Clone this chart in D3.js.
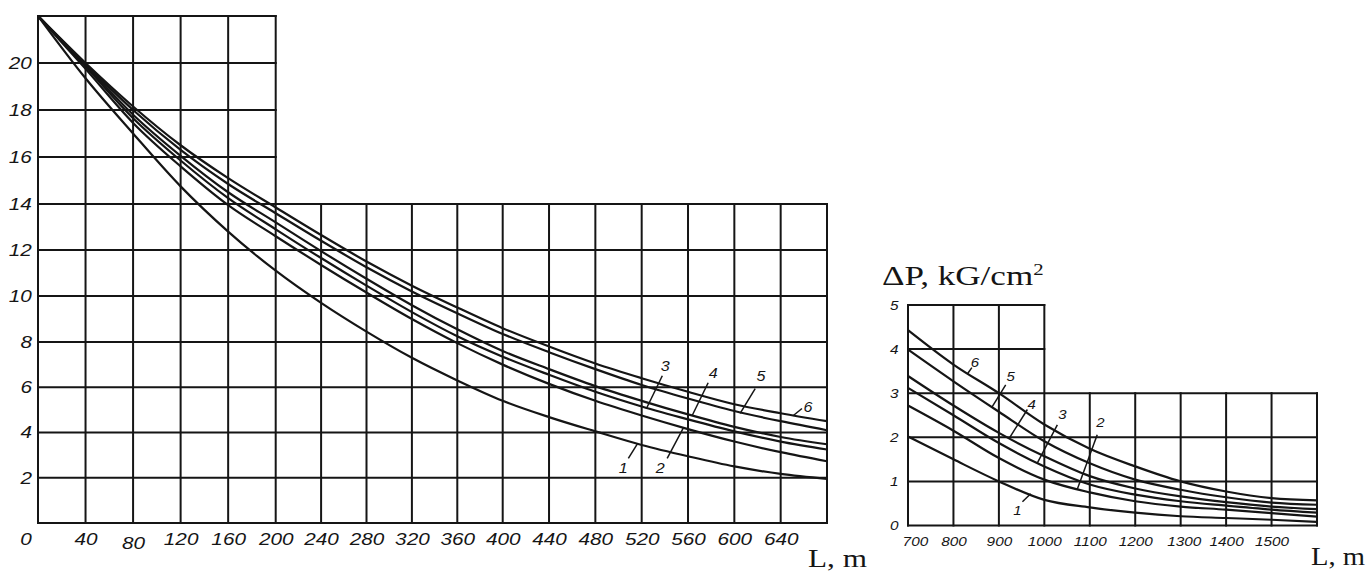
<!DOCTYPE html>
<meta charset="utf-8">
<style>
body { margin: 0; background: #fff; }
svg { display: block; }
.grid line { stroke: #151515; stroke-width: 2; }
.curve { fill: none; stroke: #151515; stroke-width: 2.2; }
.leader { stroke: #151515; stroke-width: 1.5; }
.axis text, .clabel {
  font-family: "Liberation Sans", Arial, sans-serif;
  font-style: italic;
  fill: #151515;
}
.unit {
  font-family: "Liberation Serif", "Times New Roman", serif;
  fill: #151515;
}
</style>
<body>
<svg width="1372" height="576"></svg>
<script src="https://cdn.jsdelivr.net/npm/d3@7"></script>
<script>
// ---- left panel: L 0..680 m ----
var leftL = [0, 40, 80, 120, 160, 200, 240, 280, 320, 360, 400, 440, 480, 520, 560, 600, 640, 680];
var leftC1 = [22, 19.35, 17.0, 14.75, 12.8, 11.1, 9.7, 8.45, 7.3, 6.3, 5.4, 4.68, 4.05, 3.45, 2.95, 2.5, 2.17, 1.95];
var leftC2 = [22, 19.75, 17.45, 15.6, 13.95, 12.6, 11.35, 10.15, 9.0, 7.95, 7.0, 6.15, 5.4, 4.75, 4.15, 3.6, 3.13, 2.73];
var leftC3 = [22, 19.85, 17.65, 15.85, 14.25, 12.9, 11.65, 10.45, 9.3, 8.25, 7.35, 6.55, 5.8, 5.15, 4.58, 4.05, 3.6, 3.25];
var leftC4 = [22, 19.9, 17.8, 16.05, 14.5, 13.2, 11.95, 10.75, 9.6, 8.55, 7.6, 6.8, 6.05, 5.4, 4.8, 4.25, 3.8, 3.48];
var leftC5 = [22, 19.95, 18.0, 16.3, 14.85, 13.6, 12.4, 11.25, 10.2, 9.25, 8.35, 7.55, 6.8, 6.1, 5.5, 4.95, 4.5, 4.1];
var leftC6 = [22, 20.0, 18.15, 16.5, 15.1, 13.85, 12.65, 11.5, 10.45, 9.5, 8.6, 7.8, 7.05, 6.4, 5.8, 5.25, 4.85, 4.5];
var leftXTicks = [0, 40, 80, 120, 160, 200, 240, 280, 320, 360, 400, 440, 480, 520, 560, 600, 640];
var leftYTicks = [2, 4, 6, 8, 10, 12, 14, 16, 18, 20];
var leftYGrid = [0, 2, 4, 6, 8, 10, 12, 14, 16, 18, 20, 22];

// ---- right panel: L 700..1600 m ----
var rightL = [700, 800, 900, 1000, 1100, 1200, 1300, 1400, 1500, 1600];
var rightC1 = [2.02, 1.5, 1.0, 0.58, 0.41, 0.29, 0.21, 0.17, 0.13, 0.08];
var rightC2 = [2.72, 2.15, 1.53, 1.04, 0.75, 0.55, 0.43, 0.36, 0.28, 0.2];
var rightC3 = [3.12, 2.5, 1.87, 1.34, 0.93, 0.7, 0.55, 0.45, 0.36, 0.29];
var rightC4 = [3.39, 2.72, 2.1, 1.57, 1.12, 0.84, 0.66, 0.53, 0.43, 0.37];
var rightC5 = [3.99, 3.27, 2.58, 1.91, 1.41, 1.04, 0.81, 0.64, 0.52, 0.47];
var rightC6 = [4.43, 3.65, 3.0, 2.29, 1.74, 1.34, 1.0, 0.77, 0.62, 0.57];
var rightXTicks = [700, 800, 900, 1000, 1100, 1200, 1300, 1400, 1500];
var rightYTicks = [0, 1, 2, 3, 4, 5];

// curve number labels: text point and leader end, in data units
var leftNotes = [
  {id: "1", tx: 504, tv: 2.43, ax: 508.5, av: 2.86, bx: 516.3, bv: 3.5},
  {id: "2", tx: 536, tv: 2.43, ax: 542, av: 2.86, bx: 556, bv: 4.2},
  {id: "3", tx: 540.4, tv: 6.94, ax: 537.8, av: 6.51, bx: 524, bv: 5.05},
  {id: "4", tx: 581.7, tv: 6.64, ax: 577.4, av: 6.2, bx: 563.6, bv: 4.75},
  {id: "5", tx: 623, tv: 6.51, ax: 618, av: 5.94, bx: 605, bv: 4.85},
  {id: "6", tx: 663.6, tv: 5.12, ax: 658.4, av: 5.06, bx: 650.7, bv: 4.74}
];
var rightNotes = [
  {id: "1", tx: 940.8, tv: 0.35, ax: 951.8, av: 0.54, bx: 970, bv: 0.72},
  {id: "2", tx: 1123.6, tv: 2.33, ax: 1116.4, av: 2.06, bx: 1072.5, bv: 0.82},
  {id: "3", tx: 1039.6, tv: 2.51, ax: 1028.6, av: 2.28, bx: 984.7, bv: 1.42},
  {id: "4", tx: 972, tv: 2.74, ax: 962.7, av: 2.63, bx: 922.3, bv: 1.97},
  {id: "5", tx: 926, tv: 3.38, ax: 915, av: 3.19, bx: 884.4, bv: 2.68},
  {id: "6", tx: 847, tv: 3.69, ax: 840.5, av: 3.58, bx: 831, bv: 3.44}
];

var svg = d3.select("svg");

function panel(opt) {
  var x = opt.x, y = opt.y;
  var g = svg.append("g");

  // stepped grid: tall block on the left, low block to the right
  var grid = g.append("g").attr("class", "grid");
  grid.selectAll(".v").data(opt.lengths).enter().append("line")
      .attr("x1", function(d) { return x(d); })
      .attr("x2", function(d) { return x(d); })
      .attr("y1", y(0))
      .attr("y2", function(d) { return y(d <= opt.stepL ? opt.topV : opt.stepV); })
      .attr("stroke-linecap", "square");
  grid.selectAll(".h").data(opt.yGrid).enter().append("line")
      .attr("y1", function(d) { return y(d); })
      .attr("y2", function(d) { return y(d); })
      .attr("x1", x(opt.lengths[0]))
      .attr("x2", function(d) { return x(d <= opt.stepV ? opt.lengths[opt.lengths.length - 1] : opt.stepL); })
      .attr("stroke-linecap", "square");

  var line = d3.line()
      .x(function(d) { return x(d[0]); })
      .y(function(d) { return y(d[1]); })
      .curve(d3.curveMonotoneX);

  g.selectAll(".curve").data(opt.curves).enter().append("path")
      .attr("class", "curve")
      .attr("d", function(c) { return line(opt.lengths.map(function(l, i) { return [l, c[i]]; })); });

  // axes only carry the labels
  var ax = g.append("g").attr("class", "axis")
      .attr("transform", "translate(0," + y(0) + ")")
      .call(d3.axisBottom(x).tickValues(opt.xTicks).tickSize(0).tickPadding(opt.xPad).tickFormat(d3.format("d")));
  ax.select(".domain").remove();
  ax.selectAll("text")
      .style("font-size", opt.xFont + "px")
      .attr("transform", "scale(" + opt.xStretch + ",1)");
  opt.fixX(ax);

  var ay = g.append("g").attr("class", "axis")
      .attr("transform", "translate(" + x(opt.lengths[0]) + ",0)")
      .call(d3.axisLeft(y).tickValues(opt.yTicks).tickSize(0).tickPadding(opt.yPad).tickFormat(d3.format("d")));
  ay.select(".domain").remove();
  ay.selectAll("text")
      .style("font-size", opt.yFont + "px")
      .attr("transform", "scale(" + opt.xStretch + ",1)");

  var notes = g.selectAll(".note").data(opt.notes).enter().append("g");
  notes.append("line").attr("class", "leader")
      .attr("x1", function(d) { return x(d.ax); })
      .attr("y1", function(d) { return y(d.av); })
      .attr("x2", function(d) { return x(d.bx); })
      .attr("y2", function(d) { return y(d.bv); });
  notes.append("text").attr("class", "clabel")
      .attr("transform", function(d) { return "translate(" + x(d.tx) + "," + y(d.tv) + ") scale(1.15,1)"; })
      .attr("text-anchor", "middle")
      .attr("dy", "0.36em")
      .style("font-size", opt.noteFont + "px")
      .text(function(d) { return d.id; });
}

panel({
  x: d3.scaleLinear().domain([0, 200, 400, 680]).range([38, 275.7, 502.7, 827]),
  y: d3.scaleLinear().domain([0, 8, 14, 22]).range([523, 342, 204, 16]),
  lengths: leftL, yGrid: leftYGrid,
  stepL: 200, stepV: 14, topV: 22,
  curves: [leftC1, leftC2, leftC3, leftC4, leftC5, leftC6],
  xTicks: leftXTicks, yTicks: leftYTicks,
  xPad: 10, yPad: 5, xFont: 17, yFont: 17, xStretch: 1.22, noteFont: 14,
  notes: leftNotes,
  fixX: function(ax) {
    ax.selectAll("text")
      .attr("dx", function(d) { return d === 0 ? "-0.6em" : null; })
      .attr("y", function(d) { return d === 80 ? 14 : 10; });
  }
});

panel({
  x: d3.scaleLinear().domain([700, 1600]).range([908, 1317]),
  y: d3.scaleLinear().domain([0, 5]).range([525.5, 305]),
  lengths: rightL, yGrid: rightYTicks,
  stepL: 1000, stepV: 3, topV: 5,
  curves: [rightC1, rightC2, rightC3, rightC4, rightC5, rightC6],
  xTicks: rightXTicks, yTicks: rightYTicks,
  xPad: 11, yPad: 8, xFont: 13, yFont: 13, xStretch: 1.18, noteFont: 13,
  notes: rightNotes,
  fixX: function(ax) {
    ax.selectAll("text")
      .attr("dx", function(d) { return d === 700 ? "0.45em" : (d === 1300 ? "0.2em" : null); });
  }
});

// axis titles
svg.append("text").attr("class", "unit")
    .attr("transform", "translate(808,567) scale(1.2,1)")
    .style("font-size", "26px")
    .text("L, m");
svg.append("text").attr("class", "unit")
    .attr("transform", "translate(1311,565) scale(1.1,1)")
    .style("font-size", "26px")
    .text("L, m");
var dp = svg.append("text").attr("class", "unit")
    .attr("transform", "translate(882,285) scale(1.3,1)")
    .style("font-size", "27px")
    .text("ΔP, kG/cm");
dp.append("tspan")
    .attr("dy", -10)
    .style("font-size", "16px")
    .text("2");
</script>
</body>
